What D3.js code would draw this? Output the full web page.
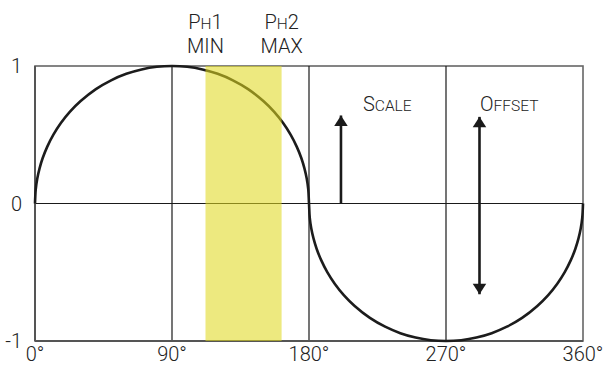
<!DOCTYPE html>
<html><head><meta charset="utf-8">
<script src="https://cdn.jsdelivr.net/npm/d3@7"></script>
<style>body{margin:0;background:#fff}svg{display:block}text{font-family:Roboto,"Liberation Sans",sans-serif;font-weight:300;fill:#222}</style>
</head><body><svg id="c" width="606" height="365"></svg>
<script>
// Data
const angles = [0,0.5,1.5,3,5,8,12,17,23,30,40,50,60,70,80,90,100,110,120,130,140,150,157,163,168,172,175,177,178.5,179.5,180,
                180.5,181.5,183,185,188,192,197,203,210,220,230,240,250,260,270,280,290,300,310,320,330,337,343,348,352,355,357,358.5,359.5,360];
const values = [0,0.105,0.182,0.256,0.329,0.412,0.499,0.585,0.668,0.745,0.832,0.896,0.943,0.975,0.994,1,0.994,0.975,0.943,0.896,0.832,0.745,0.668,0.585,0.499,0.412,0.329,0.256,0.182,0.105,0,
                -0.105,-0.182,-0.256,-0.329,-0.412,-0.499,-0.585,-0.668,-0.745,-0.832,-0.896,-0.943,-0.975,-0.994,-1,-0.994,-0.975,-0.943,-0.896,-0.832,-0.745,-0.668,-0.585,-0.499,-0.412,-0.329,-0.256,-0.182,-0.105,0];
const xTicks = [0,90,180,270,360];
const yTicks = [1,0,-1];
const band = [112,162];
const scaleArrow = {angle:201, from:0, to:0.64};
const offsetArrow = {angle:292, from:0.63, to:-0.66};

const svg = d3.select("#c");
const x = d3.scaleLinear().domain([0,360]).range([35,583]);
const y = d3.scaleLinear().domain([-1,1]).range([341,66]);

const defs = svg.append("defs");
defs.append("marker").attr("id","ah").attr("viewBox","0 0 10 20").attr("refX",10).attr("refY",10)
  .attr("markerWidth",19/2.6).attr("markerHeight",8).attr("markerUnits","strokeWidth").attr("orient","auto-start-reverse")
  .append("path").attr("d","M0,3.5 L10,10 L0,16.5 Z").attr("fill","#1a1a1a");

// frame
svg.append("rect").attr("x",x(0)).attr("y",y(1)).attr("width",x(360)-x(0)).attr("height",y(-1)-y(1))
  .attr("fill","none").attr("stroke","#666").attr("stroke-width",1.6);
// vertical grid
svg.selectAll(".vg").data(xTicks.slice(1,-1)).enter().append("line")
  .attr("x1",d=>x(d)).attr("x2",d=>x(d)).attr("y1",y(1)).attr("y2",y(-1)).attr("stroke","#1a1a1a").attr("stroke-width",1.2);
// zero line
svg.append("line").attr("x1",x(0)).attr("x2",x(360)).attr("y1",y(0)).attr("y2",y(0)).attr("stroke","#1a1a1a").attr("stroke-width",1.2);
// left/bottom axes darker
svg.append("line").attr("x1",x(0)).attr("x2",x(0)).attr("y1",y(1)).attr("y2",y(-1)).attr("stroke","#555").attr("stroke-width",2);
svg.append("line").attr("x1",x(0)).attr("x2",x(360)).attr("y1",y(-1)).attr("y2",y(-1)).attr("stroke","#555").attr("stroke-width",2);

// curve
const line = d3.line().x((d,i)=>x(angles[i])).y(d=>y(d)).curve(d3.curveCatmullRom.alpha(0.5));
svg.append("path").attr("d",line(values)).attr("fill","none").attr("stroke","#1c1c1c").attr("stroke-width",2.6);

// band overlay
svg.append("rect").attr("x",x(band[0])).attr("y",y(1)).attr("width",x(band[1])-x(band[0])).attr("height",y(-1)-y(1))
  .attr("fill","rgb(224,217,30)").attr("opacity",0.57);

// arrows
svg.append("line").attr("x1",x(scaleArrow.angle)).attr("x2",x(scaleArrow.angle)).attr("y1",y(scaleArrow.from)).attr("y2",y(scaleArrow.to))
  .attr("stroke","#1a1a1a").attr("stroke-width",2.6).attr("marker-end","url(#ah)");
svg.append("line").attr("x1",x(offsetArrow.angle)).attr("x2",x(offsetArrow.angle)).attr("y1",y(offsetArrow.from)).attr("y2",y(offsetArrow.to))
  .attr("stroke","#1a1a1a").attr("stroke-width",2.6).attr("marker-end","url(#ah)").attr("marker-start","url(#ah)");

// tick labels
svg.selectAll(".yl").data(yTicks).enter().append("text").attr("x",22).attr("y",d=>y(d)+7).attr("text-anchor","end")
  .attr("font-size",20).text(d=>d);
svg.selectAll(".xl").data(xTicks).enter().append("text").attr("x",d=>x(d)).attr("y",361).attr("text-anchor","middle")
  .attr("font-size",20).text(d=>d+"°");

// small-caps helper
function sc(xx, yy, parts, anchor){
  const tx = svg.append("text").attr("x",xx).attr("y",yy).attr("text-anchor",anchor||"start").attr("font-size",20);
  parts.forEach(p=>tx.append("tspan").attr("font-size",p[1]?15.5:20).text(p[0]));
  return tx;
}
sc(x(band[0]), 29, [["P",0],["H",1],["1",0]], "middle");
svg.append("text").attr("x",x(band[0])).attr("y",53).attr("text-anchor","middle").attr("font-size",20).text("MIN");
sc(x(band[1]), 29, [["P",0],["H",1],["2",0]], "middle");
svg.append("text").attr("x",x(band[1])).attr("y",53).attr("text-anchor","middle").attr("font-size",20).text("MAX");
sc(363, 111, [["S",0],["CALE",1]]);
sc(480, 111, [["O",0],["FFSET",1]]);
</script></body></html>
